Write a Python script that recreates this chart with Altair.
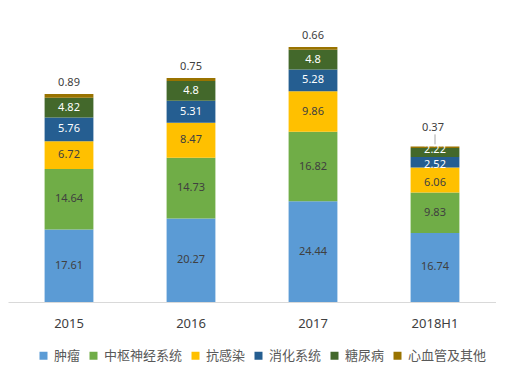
import altair as alt
import pandas as pd

years = ["2015", "2016", "2017", "2018H1"]
categories = ["肿瘤", "中枢神经系统", "抗感染", "消化系统", "糖尿病", "心血管及其他"]
tumor = [17.61, 20.27, 24.44, 16.74]
cns = [14.64, 14.73, 16.82, 9.83]
anti_infect = [6.72, 8.47, 9.86, 6.06]
digestive = [5.76, 5.31, 5.28, 2.52]
diabetes = [4.82, 4.8, 4.8, 2.22]
cardio = [0.89, 0.75, 0.66, 0.37]
colors = ["#5B9BD5", "#70AD47", "#FFC000", "#255E91", "#43682B", "#997300"]

series = [tumor, cns, anti_infect, digestive, diabetes, cardio]
rows = []
for ci, (cat, vals) in enumerate(zip(categories, series)):
    for yi, y in enumerate(years):
        rows.append({"year": y, "category": cat, "idx": ci, "value": vals[yi]})
df = pd.DataFrame(rows)

FONT_NUM = "Noto Sans"
FONT_CJK = "Noto Sans CJK SC"

x_enc = alt.X(
    "year:N",
    sort=years,
    scale=alt.Scale(paddingInner=0.6, paddingOuter=0.3),
    axis=alt.Axis(
        title=None, labelAngle=0, ticks=False, domainColor="#D9D9D9",
        labelFont=FONT_NUM, labelFontSize=13, labelColor="#404040", labelPadding=15,
    ),
)
y_scale = alt.Scale(domain=[0, 71.3], nice=False)

base = alt.Chart(df)

bars = base.mark_bar().encode(
    x=x_enc,
    y=alt.Y("value:Q", stack="zero", scale=y_scale, axis=None),
    color=alt.Color(
        "category:N",
        sort=categories,
        scale=alt.Scale(domain=categories, range=colors),
        legend=alt.Legend(
            title=None, orient="none", legendX=29, legendY=341, direction="horizontal",
            symbolType="square", symbolSize=64, symbolStrokeWidth=0,
            labelFont=FONT_CJK, labelFontSize=13, labelColor="#595959",
            labelOffset=4, columnPadding=6,
        ),
    ),
    order=alt.Order("idx:Q", sort="ascending"),
)

stacked = base.transform_stack(
    stack="value", groupby=["year"], as_=["v0", "v1"],
    sort=[alt.SortField("idx", order="ascending")],
).transform_calculate(mid="(datum.v0 + datum.v1) / 2")

def label_layer(flt, dy=0):
    return stacked.transform_filter(flt).mark_text(
        font=FONT_NUM, fontSize=11, baseline="middle", dy=dy
    ).encode(
        x=alt.X("year:N", sort=years),
        y=alt.Y("mid:Q", scale=y_scale),
        text=alt.Text("value:Q"),
        color=alt.condition("datum.idx >= 3", alt.value("#FFFFFF"), alt.value("#404040")),
    )

inner = label_layer("datum.idx < 5 && !(datum.year == '2018H1' && datum.idx >= 2)")
shift_dia = label_layer("datum.year == '2018H1' && datum.idx == 4", dy=-2)
shift_dig = label_layer("datum.year == '2018H1' && datum.idx == 3", dy=3)
shift_inf = label_layer("datum.year == '2018H1' && datum.idx == 2", dy=3)

top = stacked.transform_filter("datum.idx == 5 && datum.year != '2018H1'").mark_text(
    font=FONT_NUM, fontSize=11, baseline="middle", dy=-11, color="#404040"
).encode(
    x=alt.X("year:N", sort=years),
    y=alt.Y("v1:Q", scale=y_scale),
    text=alt.Text("value:Q"),
)

top_lead = stacked.transform_filter("datum.idx == 5 && datum.year == '2018H1'").mark_text(
    font=FONT_NUM, fontSize=11, baseline="middle", dy=-18, dx=-2, color="#404040"
).encode(
    x=alt.X("year:N", sort=years),
    y=alt.Y("v1:Q", scale=y_scale),
    text=alt.Text("value:Q"),
)

leader = stacked.transform_filter("datum.idx == 5 && datum.year == '2018H1'").mark_rule(
    color="#A6A6A6", strokeWidth=1, yOffset=-2, y2Offset=-12
).encode(
    x=alt.X("year:N", sort=years),
    y=alt.Y("v1:Q", scale=y_scale),
    y2="v1:Q",
)

chart = alt.layer(bars, inner, shift_dia, shift_dig, shift_inf, top, leader, top_lead).properties(
    width=488, height=294,
    padding={"left": 0, "top": 0, "right": 0, "bottom": 0},
).configure_view(stroke=None)

chart.save("out.html", embed_options={"renderer": "svg", "actions": False})
